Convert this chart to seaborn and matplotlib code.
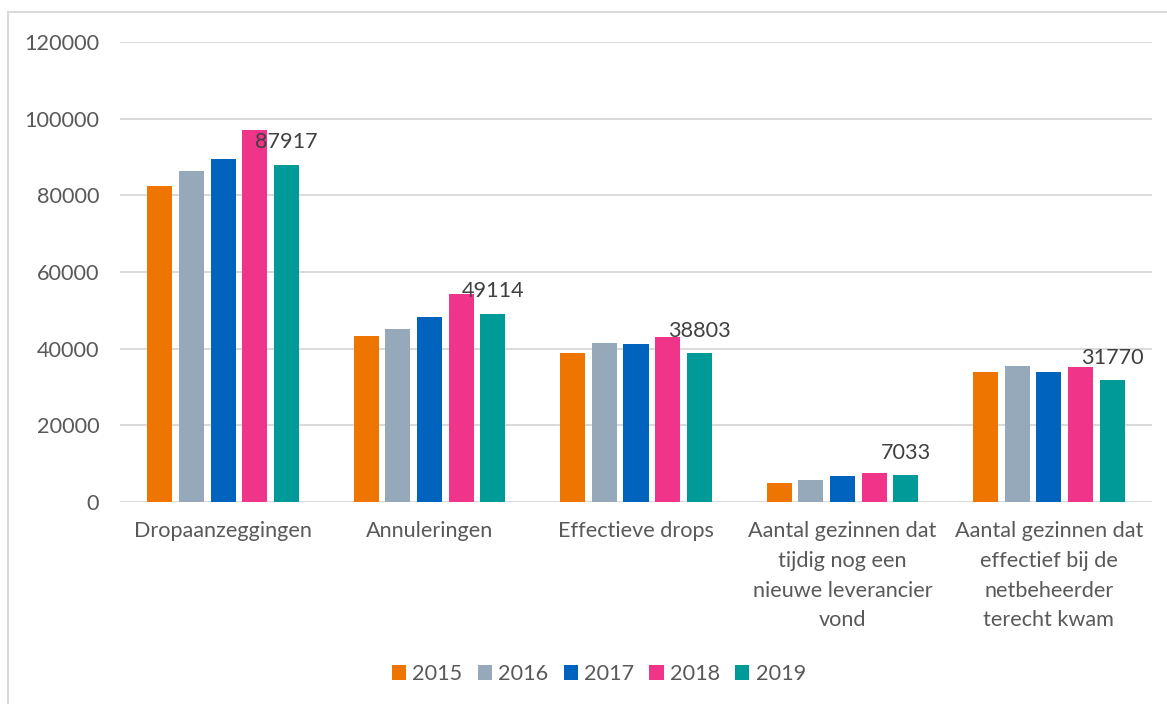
import matplotlib
matplotlib.use("Agg")
import matplotlib.pyplot as plt
from matplotlib.lines import Line2D
import seaborn as sns
import pandas as pd

categories = [
    "Dropaanzeggingen",
    "Annuleringen",
    "Effectieve drops",
    "Aantal gezinnen dat\ntijdig nog een\nnieuwe leverancier\nvond",
    "Aantal gezinnen dat\neffectief bij de\nnetbeheerder\nterecht kwam",
]
years = ["2015", "2016", "2017", "2018", "2019"]
v2015 = [82400, 43200, 39000, 4900, 34000]
v2016 = [86400, 45100, 41400, 5700, 35600]
v2017 = [89400, 48300, 41100, 6700, 34000]
v2018 = [97000, 54300, 43000, 7500, 35300]
v2019 = [87917, 49114, 38803, 7033, 31770]
colors = ["#EE7600", "#96A9BB", "#0063BE", "#EF3489", "#009A98"]
y_ticks = [0, 20000, 40000, 60000, 80000, 100000, 120000]

series = [v2015, v2016, v2017, v2018, v2019]
rows = []
for yr, vals in zip(years, series):
    for cat, v in zip(categories, vals):
        rows.append({"categorie": cat, "jaar": yr, "waarde": v})
df = pd.DataFrame(rows)

sns.set_theme(style="white")
plt.rcParams["font.family"] = ["Lato", "DejaVu Sans"]
text_color = "#595959"
fs = 15.6

fig = plt.figure(figsize=(11.67, 7.04), dpi=100)
ax = fig.add_axes([120 / 1167, 1 - 502 / 704, (1152 - 120) / 1167, (502 - 42) / 704])

sns.barplot(data=df, x="categorie", y="waarde", hue="jaar", hue_order=years,
            order=categories, palette=colors, width=0.767, gap=0.21,
            linewidth=0, saturation=1, ax=ax, errorbar=None)

ax.set_ylim(0, 120000)
ax.set_xlim(-0.5, len(categories) - 0.5)
ax.set_yticks(y_ticks)
ax.set_yticklabels([str(t) for t in y_ticks])
ax.yaxis.grid(True, color="#D9D9D9", linewidth=1.4)
ax.set_axisbelow(True)
for s in ax.spines.values():
    s.set_visible(False)
ax.set_xlabel("")
ax.set_ylabel("")
ax.tick_params(axis="y", length=0, pad=15, labelsize=fs, labelcolor=text_color)
ax.tick_params(axis="x", length=0, pad=14, labelsize=fs, labelcolor=text_color)
for lbl in ax.get_xticklabels():
    lbl.set_linespacing(1.6)
    lbl.set_horizontalalignment("center")

# data labels on 2019 series
ax.bar_label(ax.containers[4], labels=[str(v) for v in v2019], padding=9,
             fontsize=fs, color="#404040")

handles, labels = ax.get_legend_handles_labels()
ax.get_legend().remove()
fig.legend(handles, labels, loc="center", bbox_to_anchor=(599 / 1167, 1 - 674 / 704),
           ncol=5, frameon=False, fontsize=fs, labelcolor=text_color,
           handlelength=0.65, handleheight=0.65, handletextpad=0.3, columnspacing=0.7)

# chart border
fig.add_artist(Line2D([8 / 1167, 8 / 1167], [0, 1 - 12 / 704], transform=fig.transFigure,
                      color="#D9D9D9", linewidth=1.5))
fig.add_artist(Line2D([8 / 1167, 1], [1 - 12 / 704, 1 - 12 / 704], transform=fig.transFigure,
                      color="#D9D9D9", linewidth=1.5))

fig.savefig("out.png", dpi=100, facecolor="white")
